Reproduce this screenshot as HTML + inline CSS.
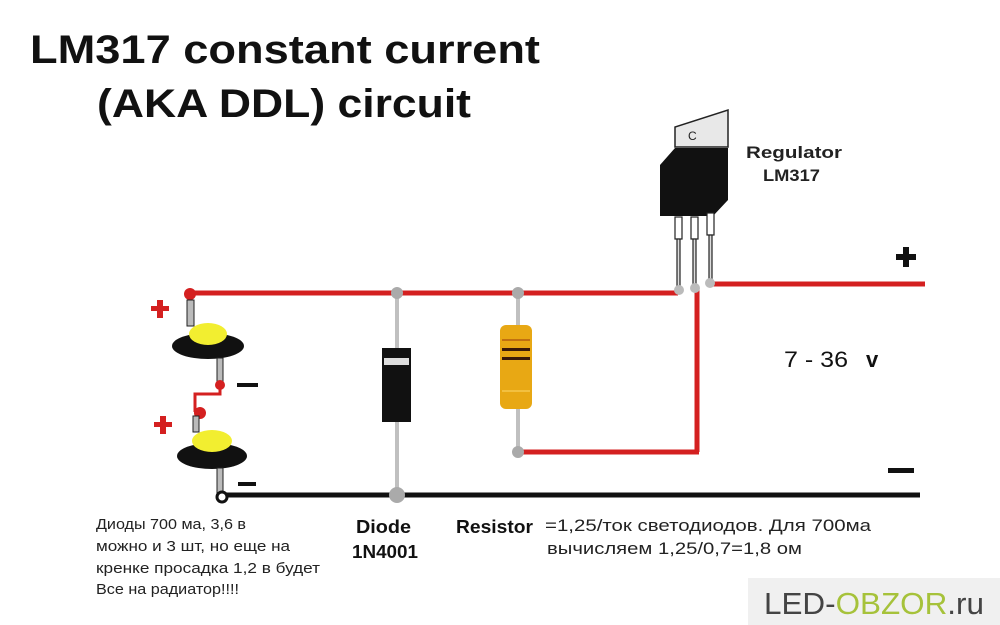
<!DOCTYPE html>
<html><head><meta charset="utf-8"><style>
html,body{margin:0;padding:0;background:#fff;}
svg{display:block;}
</style></head><body>
<svg width="1000" height="625" viewBox="0 0 1000 625" xmlns="http://www.w3.org/2000/svg" font-family="Liberation Sans, Noto Sans CJK SC, sans-serif">
<rect width="1000" height="625" fill="#fff"/>
<text x="30" y="63" font-size="40" font-weight="bold" fill="#111" textLength="510" lengthAdjust="spacingAndGlyphs">LM317 constant current</text>
<text x="97" y="117" font-size="40" font-weight="bold" fill="#111" textLength="374" lengthAdjust="spacingAndGlyphs">(AKA DDL) circuit</text>

<line x1="190" y1="293" x2="678" y2="293" stroke="#d42020" stroke-width="5"/>
<line x1="712" y1="284" x2="925" y2="284" stroke="#d42020" stroke-width="5"/>
<line x1="697" y1="289" x2="697" y2="452" stroke="#d42020" stroke-width="5"/>
<line x1="518" y1="452" x2="699" y2="452" stroke="#d42020" stroke-width="5"/>
<line x1="222" y1="495" x2="920" y2="495" stroke="#111" stroke-width="5"/>

<line x1="397" y1="293" x2="397" y2="495" stroke="#c0c0c0" stroke-width="4"/>
<rect x="382" y="348" width="29" height="74" fill="#111"/>
<rect x="384" y="358" width="25" height="7" fill="#ddd"/>
<circle cx="397" cy="293" r="6" fill="#aaa"/>
<circle cx="397" cy="495" r="8" fill="#aaa"/>

<line x1="518" y1="293" x2="518" y2="452" stroke="#c0c0c0" stroke-width="4"/>
<rect x="500" y="325" width="32" height="84" rx="6" fill="#e8a814"/>
<rect x="502" y="339" width="28" height="2" fill="#c07010"/>
<rect x="502" y="348" width="28" height="3" fill="#3a1a08"/>
<rect x="502" y="357" width="28" height="3" fill="#3a1a08"/>
<rect x="502" y="390" width="28" height="2" fill="#f2c040"/>
<circle cx="518" cy="293" r="6" fill="#aaa"/>
<circle cx="518" cy="452" r="6" fill="#aaa"/>

<polygon points="675,147 675,127 728,110 728,147" fill="#e8e8e8" stroke="#222" stroke-width="1.5"/>
<text x="688" y="140" font-size="12" fill="#222">C</text>
<polygon points="660,165 675,148 728,148 728,200 713,216 660,216" fill="#111"/>
<g stroke="#222" stroke-width="1.2" fill="#fff">
<rect x="675" y="217" width="7" height="22"/>
<rect x="691" y="217" width="7" height="22"/>
<rect x="707" y="213" width="7" height="22"/>
</g>
<g stroke="#222" stroke-width="1.2" fill="#ddd">
<rect x="677" y="239" width="3" height="50"/>
<rect x="693" y="239" width="3" height="48"/>
<rect x="709" y="235" width="3" height="47"/>
</g>
<circle cx="679" cy="290" r="5" fill="#bbb"/>
<circle cx="695" cy="288" r="5" fill="#bbb"/>
<circle cx="710" cy="283" r="5" fill="#bbb"/>
<text x="746" y="158" font-size="17" font-weight="bold" fill="#222" textLength="96" lengthAdjust="spacingAndGlyphs">Regulator</text>
<text x="763" y="181" font-size="17" font-weight="bold" fill="#222" textLength="57" lengthAdjust="spacingAndGlyphs">LM317</text>

<circle cx="190" cy="294" r="6" fill="#d42020"/>
<rect x="187" y="300" width="7" height="26" fill="#bbb" stroke="#222" stroke-width="1"/>
<ellipse cx="208" cy="346" rx="36" ry="13" fill="#111"/>
<ellipse cx="208" cy="334" rx="19" ry="11" fill="#f2ee30"/>
<rect x="217" y="358" width="6" height="26" fill="#bbb" stroke="#222" stroke-width="1"/>
<polyline points="220,385 220,394 195,394 195,412" fill="none" stroke="#d42020" stroke-width="3"/>
<circle cx="220" cy="385" r="5" fill="#d42020"/>
<circle cx="200" cy="413" r="6" fill="#d42020"/>
<rect x="193" y="416" width="6" height="16" fill="#bbb" stroke="#222" stroke-width="1"/>
<ellipse cx="212" cy="456" rx="35" ry="13" fill="#111"/>
<ellipse cx="212" cy="441" rx="20" ry="11" fill="#f2ee30"/>
<rect x="217" y="468" width="6" height="26" fill="#bbb" stroke="#222" stroke-width="1"/>
<circle cx="222" cy="497" r="5" fill="#fff" stroke="#111" stroke-width="3"/>

<g fill="#d42020"><rect x="151" y="306" width="18" height="5"/><rect x="157" y="300" width="6" height="18"/>
<rect x="154" y="422" width="18" height="5"/><rect x="160" y="416" width="6" height="18"/></g>
<g fill="#111"><rect x="237" y="383" width="21" height="4"/><rect x="238" y="482" width="18" height="4"/>
<rect x="896" y="254" width="20" height="6"/><rect x="903" y="247" width="6" height="20"/>
<rect x="888" y="468" width="26" height="5"/></g>

<text x="784" y="367" font-size="22" fill="#111" textLength="64" lengthAdjust="spacingAndGlyphs">7 - 36</text>
<text x="866" y="367" font-size="22" font-weight="bold" fill="#111">v</text>

<g font-size="15" fill="#222" lengthAdjust="spacingAndGlyphs">
<text x="96" y="529" textLength="150" lengthAdjust="spacingAndGlyphs">Диоды 700 ма, 3,6 в</text>
<text x="96" y="551" textLength="194" lengthAdjust="spacingAndGlyphs">можно и 3 шт, но еще на</text>
<text x="96" y="573" textLength="224" lengthAdjust="spacingAndGlyphs">кренке просадка 1,2 в будет</text>
<text x="96" y="594" textLength="143" lengthAdjust="spacingAndGlyphs">Все на радиатор!!!!</text>
<text x="545" y="531" font-size="17" textLength="326" lengthAdjust="spacingAndGlyphs">=1,25/ток светодиодов. Для 700ма</text>
<text x="547" y="554" font-size="17" textLength="255" lengthAdjust="spacingAndGlyphs">вычисляем 1,25/0,7=1,8 ом</text>
</g>
<text x="356" y="533" font-size="18" font-weight="bold" fill="#111" textLength="55" lengthAdjust="spacingAndGlyphs">Diode</text>
<text x="352" y="558" font-size="18" font-weight="bold" fill="#111" textLength="66" lengthAdjust="spacingAndGlyphs">1N4001</text>
<text x="456" y="533" font-size="18" font-weight="bold" fill="#111" textLength="77" lengthAdjust="spacingAndGlyphs">Resistor</text>

<rect x="748" y="578" width="252" height="47" fill="#f0f0f0"/>
<text x="764" y="614" font-size="31" fill="#444" textLength="220" lengthAdjust="spacingAndGlyphs">LED-<tspan fill="#a6c23a">OBZOR</tspan>.ru</text>
</svg>
</body></html>
